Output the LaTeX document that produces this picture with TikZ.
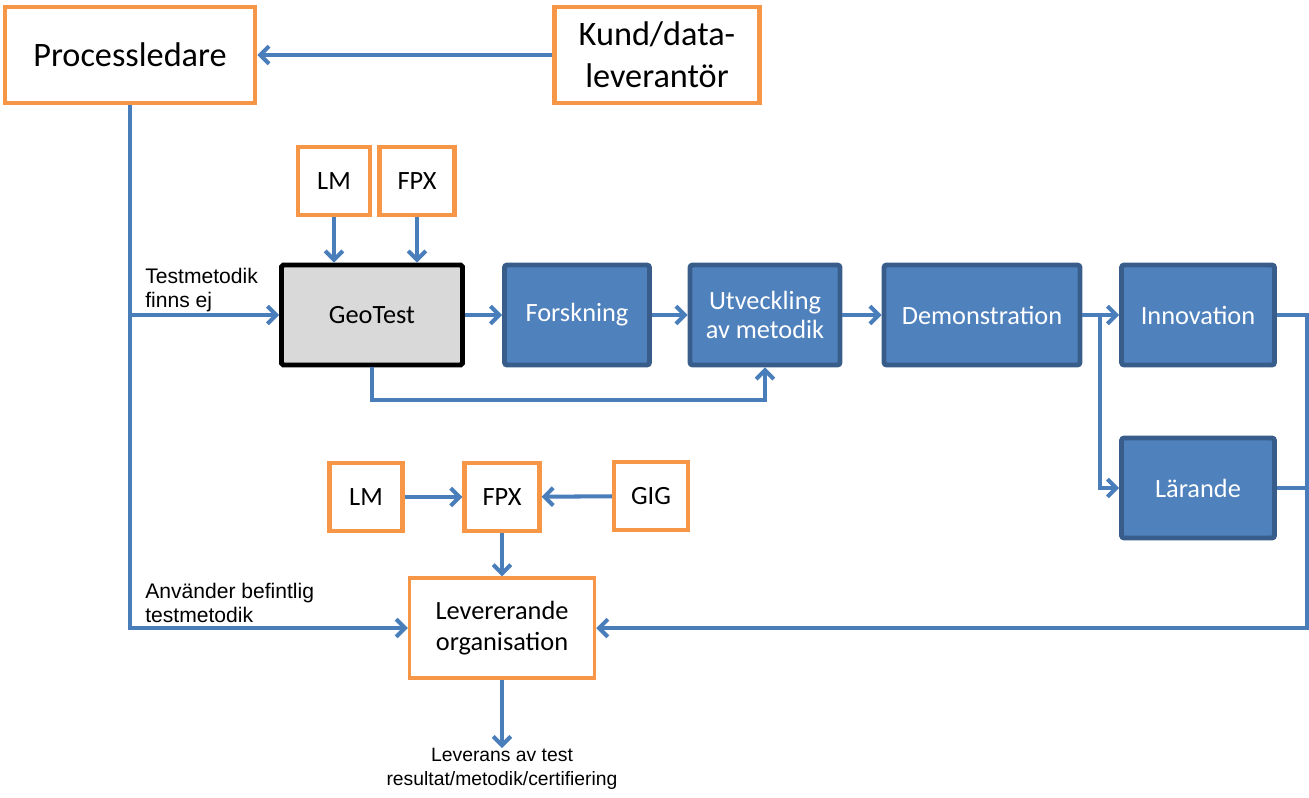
\documentclass[tikz,border=0pt]{standalone}
\usepackage{fontspec}
\setmainfont{Carlito}
\newfontfamily\labelfont{Liberation Sans}
\usetikzlibrary{arrows.meta}
\definecolor{boxorange}{HTML}{F79646}
\definecolor{boxblue}{HTML}{4F81BD}
\definecolor{boxborder}{HTML}{385D8A}
\definecolor{flowblue}{HTML}{4A7EBB}
\definecolor{geogray}{HTML}{D9D9D9}
\begin{document}
\begin{tikzpicture}[x=0.02cm, y=-0.02cm,
        actor/.style={draw=boxorange, line width=2.4pt, fill=white, align=center, inner sep=0pt},
        bigactor/.style={actor, line width=2.7pt, minimum height=1.92cm, font=\fontsize{19.5}{24}\selectfont},
        smallactor/.style={actor, minimum width=1.46cm, minimum height=1.36cm, font=\fontsize{15}{17}\selectfont},
        stage/.style={draw=boxborder, fill=boxblue, line width=2.8pt, rounded corners=1.5pt, text=white,
            minimum height=2cm, inner sep=0pt, align=center, font=\fontsize{15}{17}\selectfont},
        flow/.style={draw=flowblue, line width=2.3pt},
        arr/.style={flow, -{Straight Barb[length=5pt,width=10pt]}},
        note/.style={font=\labelfont\fontsize{12}{13.6}\selectfont, align=left, inner sep=0pt}]
    \useasboundingbox (0,0) rectangle (1309,798);
    % top row
    \node[bigactor, minimum width=5cm] (proc) at (130,55) {Processledare};
    \node[bigactor, minimum width=4.1cm] (kund) at (657,55) {Kund/data-\\leverantör};
    \draw[arr] (kund.west) -- (proc.east);
    % test chain
    \node[smallactor, minimum width=1.44cm] (lmA) at (334,181) {LM};
    \node[smallactor, minimum width=1.5cm] (fpxA) at (417,181) {FPX};
    \node[draw=black, fill=geogray, line width=2.8pt, rounded corners=1pt, minimum width=3.62cm,
        minimum height=2cm, font=\fontsize{15}{17}\selectfont] (geo) at (372,315) {GeoTest};
    \node[stage, minimum width=2.9cm] (fors) at (577,315) {Forskning};
    \node[stage, minimum width=3cm] (utv) at (765,315) {Utveckling\\av metodik};
    \node[stage, minimum width=3.92cm] (demo) at (982,315) {Demonstration};
    \node[stage, minimum width=3.06cm] (innov) at (1198,315) {Innovation};
    \node[stage, minimum width=3.06cm] (lar) at (1198,488) {Lärande};
    \draw[arr] (lmA.south) -- (lmA.south |- geo.north);
    \draw[arr] (fpxA.south) -- (fpxA.south |- geo.north);
    \draw[arr] (geo) -- (fors);
    \draw[arr] (fors) -- (utv);
    \draw[arr] (utv) -- (demo);
    \draw[arr] (demo) -- (innov);
    \coordinate (split) at (1100,315);
    \draw[arr] (split) |- (lar.west);
    \draw[arr] (geo.south) -- ++(0,33) -| (utv.south);
    % delivery
    \node[smallactor, minimum width=1.46cm] (lmB) at (366,497) {LM};
    \node[smallactor, minimum width=1.5cm] (fpxB) at (502,497) {FPX};
    \node[smallactor, minimum width=1.48cm] (gig) at (651,496) {GIG};
    \node[actor, minimum width=3.7cm, minimum height=2cm, line width=2pt,
        font=\fontsize{15}{18}\selectfont] (lev) at (502,628) {Levererande\\organisation};
    \draw[arr] (lmB) -- (fpxB);
    \draw[arr] (gig) -- (fpxB);
    \draw[arr] (fpxB) -- (lev);
    \coordinate (corner) at (1307,628);
    \draw[arr] (innov.east) -| (corner) -- (lev.east);
    \draw[flow] (lar.east) -- (lar.east -| corner);
    \coordinate (fork) at (proc.south |- geo.west);
    \draw[arr] (proc.south) |- (lev.west);
    \draw[arr] (fork) -- (geo.west);
    \node[note, anchor=west] (nyA) at (145,290) {Testmetodik\\finns ej};
    \node[note, anchor=west] (nyB) at (145,603) {Använder befintlig\\testmetodik};
    \node[note, align=center, anchor=north, font=\labelfont\fontsize{11}{13.6}\selectfont] (ut) at (502,748)
        {Leverans av test\\resultat/metodik/certifiering};
    \draw[arr] (lev.south) -- (ut.north);
\end{tikzpicture}
\end{document}
